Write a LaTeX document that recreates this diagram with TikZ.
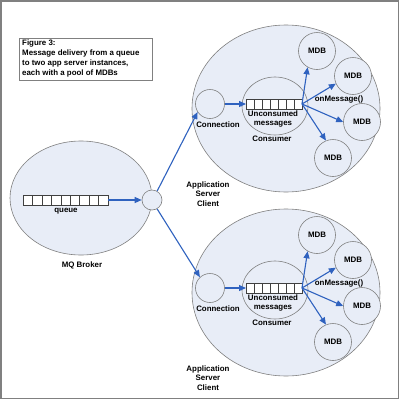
\documentclass[tikz,border=0pt]{standalone}
\usepackage{fontspec}
\setmainfont{Liberation Sans}
\usetikzlibrary{arrows.meta,shapes.geometric}
\definecolor{efill}{HTML}{E8EDF7}
\definecolor{eline}{HTML}{808080}
\definecolor{arr}{HTML}{2F62BF}
\begin{document}
\begin{tikzpicture}[x=1pt,y=-1pt,
  every node/.style={font=\fontsize{7.9}{9.7}\selectfont\bfseries, inner sep=0pt, align=center},
  ell/.style={ellipse, draw=eline, fill=efill, line width=0.6pt},
  circ/.style={circle, draw=eline, fill=efill, line width=0.6pt},
  arrowline/.style={draw=arr, line width=1.1pt, -{Triangle[length=7pt,width=6pt]}},
  cell/.style={draw=black!75, fill=white, line width=0.5pt}
]
\useasboundingbox (0,0) rectangle (400,400);
\fill[white] (0,0) rectangle (400,400);
\draw[eline, line width=1.5pt] (1,1) rectangle (398.5,398.5);

% caption
\node[draw=eline, line width=0.6pt, fill=white, minimum width=133pt, minimum height=42pt, anchor=north west] (capbox) at (19,38) {};
\node[anchor=north west, align=left] (cap) at (22,40) {Figure 3:\\Message delivery from a queue\\to two app server instances,\\each with a pool of MDBs};

% broker
\node[ell, minimum width=142pt, minimum height=114pt] (broker) at (81,198) {};
\foreach \i in {0,...,8} {
  \draw[cell] ({23+\i*9.44},195) rectangle ({23+(\i+1)*9.44},205);
}
\coordinate (qend) at (108,200);
\node (qlabel) at (66,211) {queue};
\node (mqlabel) at (82,265) {MQ Broker};
\node[circle, draw=eline, fill=efill, line width=0.6pt, minimum size=20pt] (bc) at (152,200) {};
\draw[arrowline] (qend) -- (bc.west);

% app servers
\foreach \o/\s in {0/a,184/b} {
  \begin{scope}[shift={(0,\o)}]
    \node[ell, minimum width=188pt, minimum height=167pt] (app\s) at (286,108.5) {};
    \node[circ, minimum size=29pt] (conn\s) at (210,104) {};
    \node (connl\s) at (218,125) {Connection};
    \node[ell, minimum width=66pt, minimum height=58pt] (cons\s) at (275,106) {};
    \foreach \i in {0,...,6} {
      \draw[cell] ({246+\i*8},99) rectangle ({246+(\i+1)*8},109);
    }
    \coordinate (cqin\s) at (246,104);
    \coordinate (cqout\s) at (302,104);
    \node (uncl\s) at (273,119) {Unconsumed\\messages};
    \node (consl\s) at (272,138.5) {Consumer};
    \node[circ, minimum size=37pt] (ma\s) at (317,51) {MDB};
    \node[circ, minimum size=37pt] (mb\s) at (353,76) {MDB};
    \node[circ, minimum size=37pt] (mc\s) at (362,122) {MDB};
    \node[circ, minimum size=37pt] (md\s) at (333,158) {MDB};
    \node (onm\s) at (339,99.5) {onMessage()};
    \node (appl\s) at (208,194) {Application\\Server\\Client};
    \draw[arrowline] (conn\s.east) -- (cqin\s);
    \draw[arrowline] (cqout\s) -- (ma\s.240);
    \draw[arrowline] (cqout\s) -- (mb\s.204);
    \draw[arrowline] (cqout\s) -- (mc\s.180);
    \draw[arrowline] (cqout\s) -- (md\s.112);
  \end{scope}
}
\draw[arrowline] (bc.60) -- (conna.213);
\draw[arrowline] (bc.-60) -- (connb.133);
\end{tikzpicture}
\end{document}
